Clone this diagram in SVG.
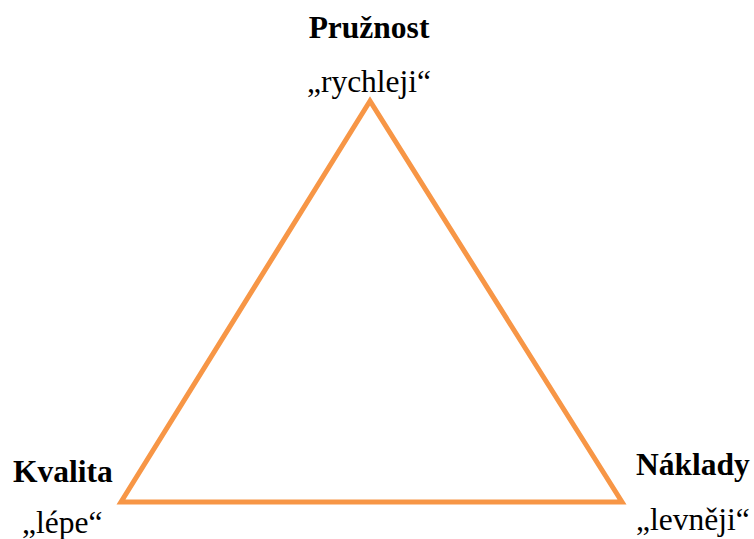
<svg xmlns="http://www.w3.org/2000/svg" width="754" height="539" viewBox="0 0 754 539">
<style>
.t{font-family:"Liberation Serif","Times New Roman",serif;font-size:31.5px;fill:#000}
.b{font-weight:bold}
</style>
<rect width="754" height="539" fill="#fff"/>
<g id="connectors">
<polygon points="370,101 121,502 622,502" fill="none" stroke="#F79646" stroke-width="5" stroke-linejoin="miter"/>
</g>
<g id="pruznost">
<text class="t b" x="369" y="38" text-anchor="middle">Pružnost</text>
<text class="t" x="369" y="92" text-anchor="middle">„rychleji“</text>
</g>
<g id="kvalita">
<text class="t b" x="13" y="482">Kvalita</text>
<text class="t" x="22" y="533">„lépe“</text>
</g>
<g id="naklady">
<text class="t b" x="636" y="475">Náklady</text>
<text class="t" x="636" y="530">„levněji“</text>
</g>
</svg>
